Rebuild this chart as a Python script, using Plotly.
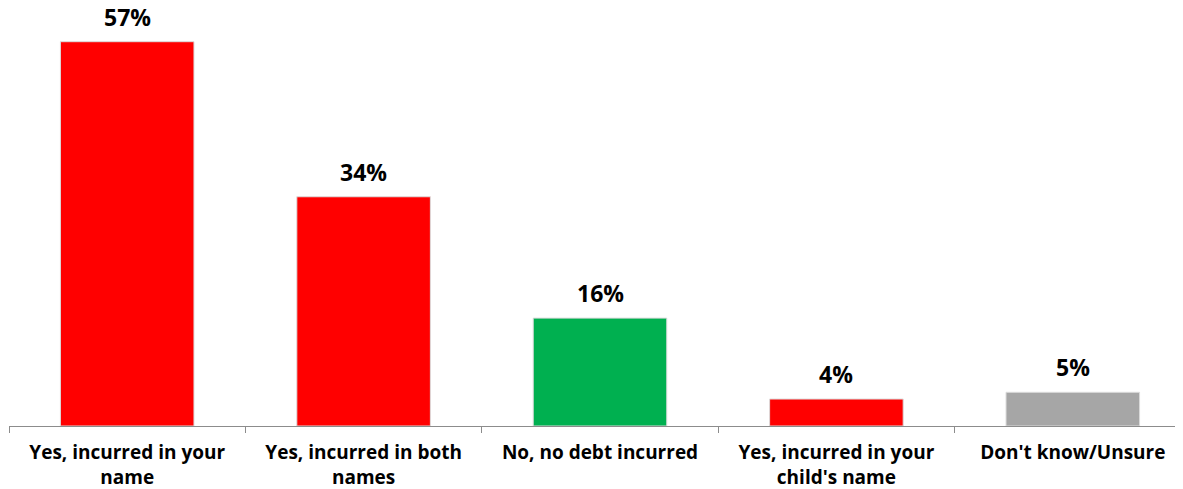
import plotly.graph_objects as go

categories = ["Yes, incurred in your<br>name", "Yes, incurred in both<br>names", "No, no debt incurred",
              "Yes, incurred in your<br>child's name", "Don't know/Unsure"]
values = [57, 34, 16, 4, 5]
labels = ["57%", "34%", "16%", "4%", "5%"]
colors = ["#FF0000", "#FF0000", "#00B050", "#FF0000", "#A6A6A6"]

fig = go.Figure(go.Bar(
    x=categories, y=values,
    marker=dict(color=colors, line=dict(color="#dcdcdc", width=1)),
    width=0.565, cliponaxis=False,
))

for c, v, t in zip(categories, values, labels):
    fig.add_annotation(x=c, y=v, text=t, showarrow=False, yanchor="bottom", yshift=8, borderpad=0,
                       font=dict(family="Open Sans", size=23, color="#000000", weight="bold"))

fig.update_layout(
    width=1183, height=489,
    margin=dict(l=1, r=0, t=2, b=71, autoexpand=False),
    paper_bgcolor="white", plot_bgcolor="white",
    showlegend=False,
    font=dict(family="Open Sans", color="#000000"),
)
fig.update_xaxes(
    showline=True, linecolor="#8c8c8c", linewidth=1, automargin=False,
    ticks="outside", tickson="boundaries", ticklen=6, tickcolor="#8c8c8c",
    ticklabelstandoff=9,
    tickfont=dict(family="Open Sans", size=19, color="#000000", weight="bold"),
    showgrid=False,
)
fig.update_yaxes(range=[0, 61.7], visible=False, showgrid=False, automargin=False)

fig.write_html("out.html")
